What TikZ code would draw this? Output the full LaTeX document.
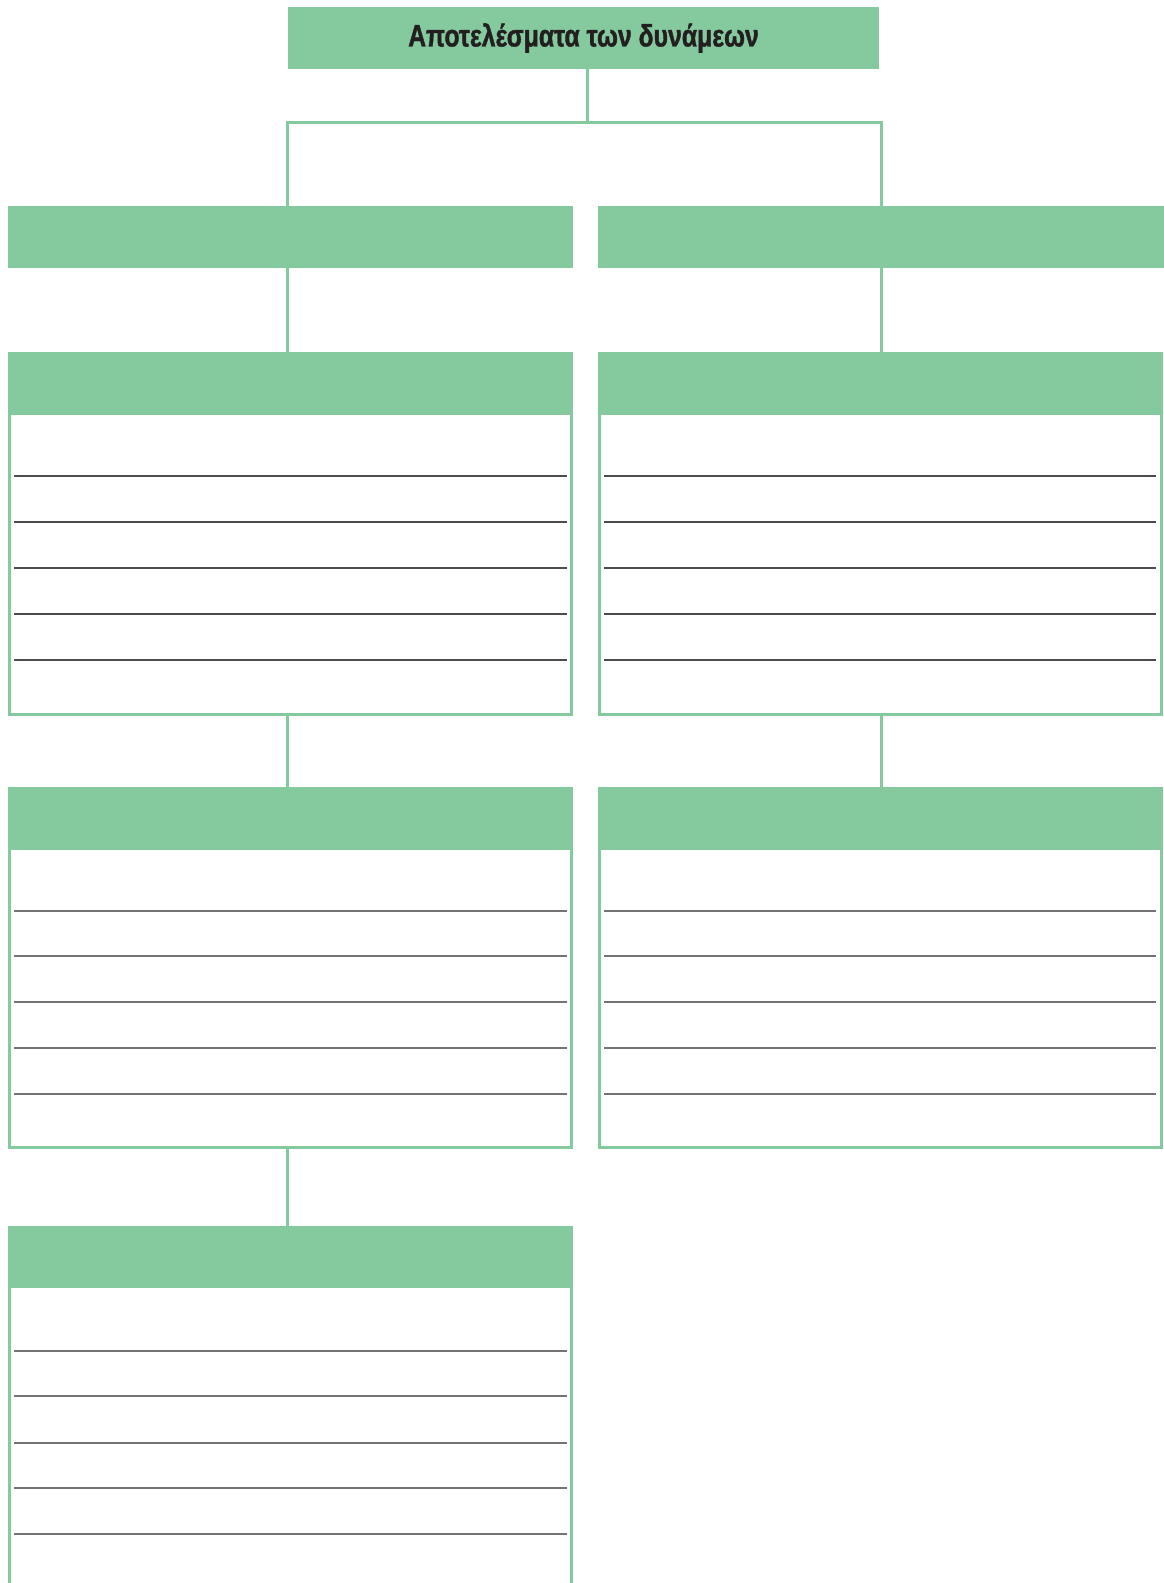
\documentclass[tikz,border=0pt]{standalone}
\usepackage{fontspec}
\newfontfamily\titlefont[FakeStretch=0.8,FakeBold=1.2]{Liberation Sans}
\definecolor{gr}{RGB}{133,201,158}
\definecolor{ink}{RGB}{35,31,32}
\tikzset{
  x=1pt, y=-1pt,
  hdr/.style={fill=gr, draw=none, inner sep=0pt, outer sep=0pt, anchor=north west},
  body/.style={draw=gr, line width=3pt, inner sep=0pt, outer sep=0pt, anchor=north west},
  conn/.style={draw=gr, line width=3pt},
  rulea/.style={draw=black!70, line width=2pt},
  ruleb/.style={draw=black!55, line width=2pt},
}
\begin{document}
\begin{tikzpicture}
\useasboundingbox (0,0) rectangle (1164,1583);
\fill[white] (0,0) rectangle (1164,1583);
% title
\node[hdr, minimum width=591pt, minimum height=62pt] (title) at (288,7) {};
\node[text=ink, font=\titlefont\bfseries\fontsize{31}{36}\selectfont] (titletext) at (title.center) {Αποτελέσματα των δυνάμεων};
% level 2
\node[hdr, minimum width=565pt, minimum height=62pt] (LA2) at (8,206) {};
\node[hdr, minimum width=566pt, minimum height=62pt] (RA2) at (598,206) {};
% level 3 boxes
\node[body, minimum width=562pt, minimum height=361pt] (LB3) at (9.5,353.5) {};
\node[hdr, minimum width=565pt, minimum height=63pt] (LH3) at (8,352) {};
\node[body, minimum width=562pt, minimum height=361pt] (RB3) at (599.5,353.5) {};
\node[hdr, minimum width=565pt, minimum height=63pt] (RH3) at (598,352) {};
% level 4 boxes
\node[body, minimum width=562pt, minimum height=359pt] (LB4) at (9.5,788.5) {};
\node[hdr, minimum width=565pt, minimum height=63pt] (LH4) at (8,787) {};
\node[body, minimum width=562pt, minimum height=359pt] (RB4) at (599.5,788.5) {};
\node[hdr, minimum width=565pt, minimum height=63pt] (RH4) at (598,787) {};
% level 5 box (open at the bottom)
\coordinate (L5bl) at (9.5,1583);
\coordinate (L5br) at (571.5,1583);
\draw[conn] (L5bl) -- (9.5,1280) (571.5,1280) -- (L5br);
\node[hdr, minimum width=565pt, minimum height=62pt] (LH5) at (8,1226) {};
% connectors
\coordinate (stem) at (587,69);
\coordinate (jc) at (587,122);
\coordinate (jl) at (287.5,122);
\coordinate (jr) at (881,122);
\draw[conn] (stem) -- (jc);
\draw[conn, line cap=rect] (jl) -- (jr);
\draw[conn] (jl) -- (jl |- LA2.north);
\draw[conn] (jr) -- (jr |- RA2.north);
\draw[conn] (jl |- LA2.south) -- (jl |- LH3.north);
\draw[conn] (jr |- RA2.south) -- (jr |- RH3.north);
\draw[conn] (jl |- LB3.south) -- (jl |- LH4.north);
\draw[conn] (jr |- RB3.south) -- (jr |- RH4.north);
\draw[conn] (jl |- LB4.south) -- (jl |- LH5.north);
% writing rules
\foreach \y in {476,522,568,614,660}{
  \draw[rulea] (14,\y) -- (567,\y);
  \draw[rulea] (604,\y) -- (1156,\y);
}
\foreach \y in {911,956,1002,1048,1094}{
  \draw[ruleb] (14,\y) -- (567,\y);
  \draw[ruleb] (604,\y) -- (1156,\y);
}
\foreach \y in {1351,1396,1443,1488,1534}{
  \draw[ruleb] (14,\y) -- (567,\y);
}
\end{tikzpicture}
\end{document}
